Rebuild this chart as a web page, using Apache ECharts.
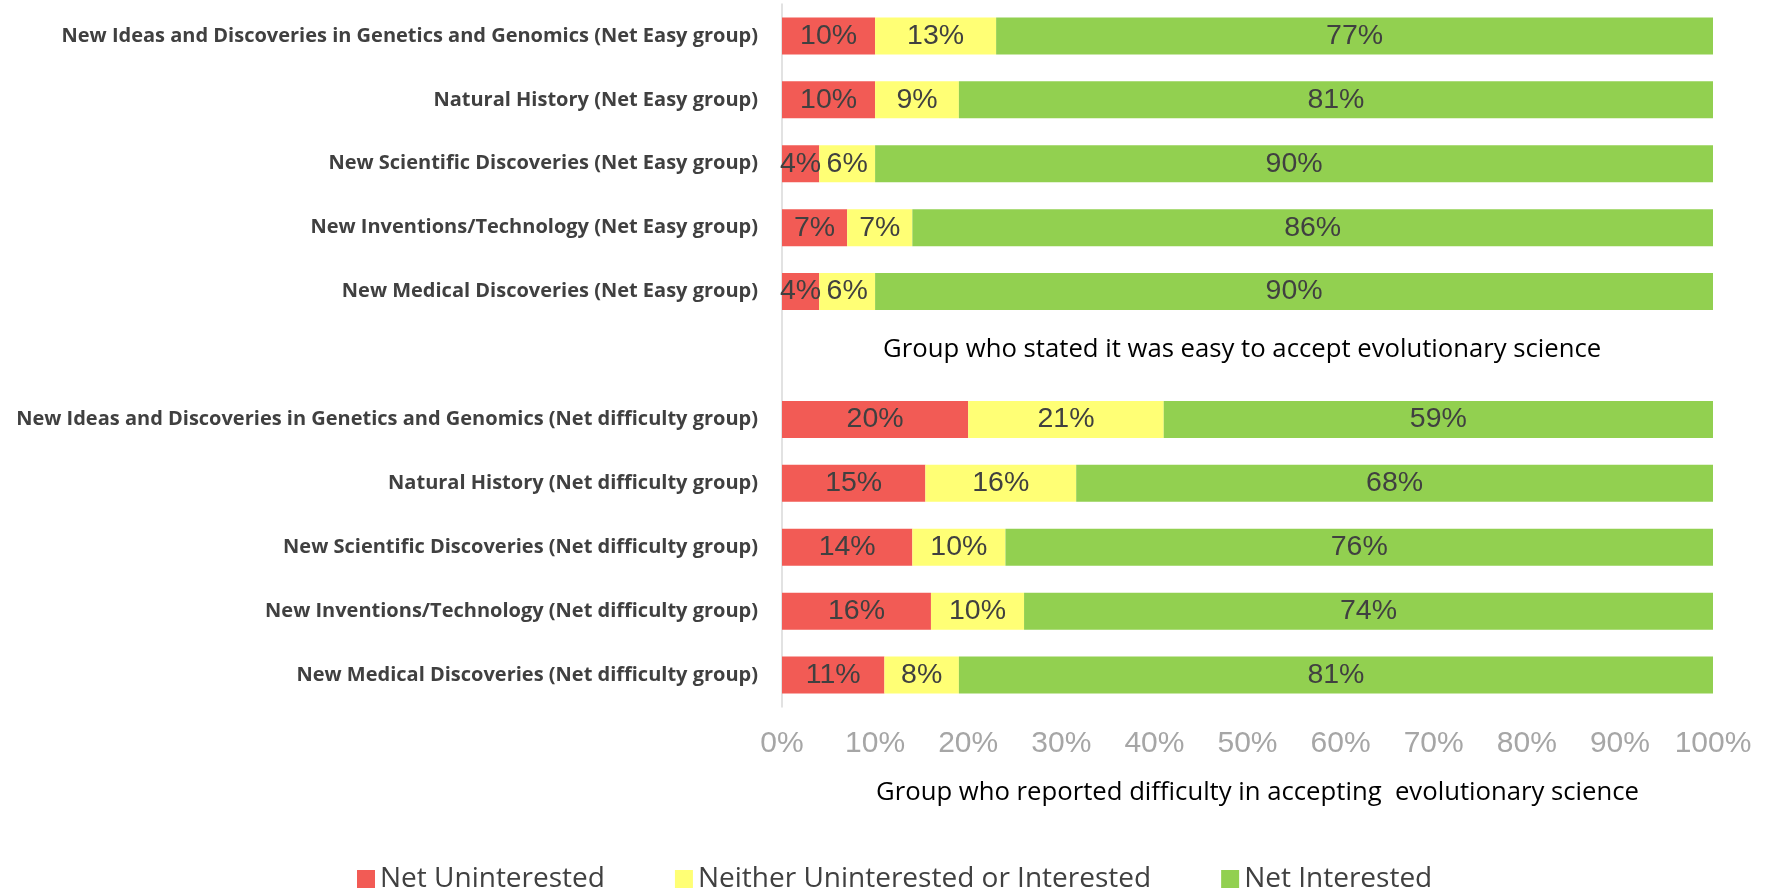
<!DOCTYPE html>
<html>
<head>
<meta charset="utf-8">
<script src="https://cdn.jsdelivr.net/npm/echarts@6/dist/echarts.min.js"></script>
<style>
  html, body { margin: 0; padding: 0; background: #fff; }
  #mainChart { width: 1771px; height: 891px; }
</style>
</head>
<body>
<div id="mainChart"></div>
<script>
// 兴趣分布（百分比堆叠条形图）

var categories = [
    'New Ideas and Discoveries in Genetics and Genomics (Net Easy group)',
    'Natural History (Net Easy group)',
    'New Scientific Discoveries (Net Easy group)',
    'New Inventions/Technology (Net Easy group)',
    'New Medical Discoveries (Net Easy group)',
    '',
    'New Ideas and Discoveries in Genetics and Genomics (Net difficulty group)',
    'Natural History (Net difficulty group)',
    'New Scientific Discoveries (Net difficulty group)',
    'New Inventions/Technology (Net difficulty group)',
    'New Medical Discoveries (Net difficulty group)'
];

var uninterestedData = [10, 10, 4, 7, 4, null, 20, 15.4, 14, 16, 11];
var neitherData = [13, 9, 6, 7, 6, null, 21, 16.2, 10, 10, 8];
var interestedData = [77, 81, 90, 86, 90, null, 59, 68.4, 76, 74, 81];

var seriesNames = ['Net Uninterested', 'Neither Uninterested or Interested', 'Net Interested'];
var seriesColors = ['#f25b55', '#ffff75', '#92d050'];

var easyGroupTitle = 'Group who stated it was easy to accept evolutionary science';
var difficultyGroupTitle = 'Group who reported difficulty in accepting  evolutionary science';

var labelFont = "'Open Sans', sans-serif";
var numFont = "'Liberation Sans', Arial, sans-serif";

var myChart = echarts.init(document.getElementById('mainChart'));

function makeSeries(idx, data) {
    return {
        name: seriesNames[idx],
        type: 'bar',
        stack: 'total',
        barWidth: 37,
        data: data,
        itemStyle: { color: seriesColors[idx] },
        label: {
            show: true,
            position: 'inside',
            fontFamily: numFont,
            fontSize: 28.5,
            color: '#404040',
            formatter: function (p) {
                return Math.round(p.value) + '%';
            }
        }
    };
}

var option = {
    animation: false,
    grid: {
        left: 782,
        right: 58,
        top: 4,
        bottom: 184,
        containLabel: false,
        outerBoundsMode: 'none'
    },
    legend: {
        left: 352,
        top: 860,
        icon: 'rect',
        itemWidth: 18,
        itemHeight: 18,
        itemGap: 70,
        textStyle: {
            fontFamily: labelFont,
            fontSize: 28,
            color: '#404040'
        },
        data: seriesNames
    },
    xAxis: {
        type: 'value',
        min: 0,
        max: 100,
        interval: 10,
        axisLine: { show: false },
        axisTick: { show: false },
        splitLine: { show: false },
        axisLabel: {
            formatter: '{value}%',
            fontFamily: numFont,
            fontSize: 30,
            color: '#a6a6a6',
            margin: 22
        },
        name: difficultyGroupTitle,
        nameLocation: 'middle',
        nameGap: 73,
        nameTextStyle: {
            fontFamily: labelFont,
            fontSize: 25.7,
            color: '#000000',
            padding: [0, 0, 0, 20]
        }
    },
    yAxis: {
        type: 'category',
        inverse: true,
        data: categories,
        axisLine: { lineStyle: { color: '#d9d9d9', width: 1.5 } },
        axisTick: { show: false },
        axisLabel: {
            fontFamily: labelFont,
            fontWeight: 'bold',
            fontSize: 20,
            color: '#404040',
            margin: 24
        }
    },
    graphic: [{
        type: 'text',
        left: 883,
        top: 337,
        style: {
            text: easyGroupTitle,
            fontFamily: labelFont,
            fontSize: 25.7,
            fill: '#000000'
        }
    }],
    series: [
        makeSeries(0, uninterestedData),
        makeSeries(1, neitherData),
        makeSeries(2, interestedData)
    ]
};

myChart.setOption(option);
</script>
</body>
</html>
